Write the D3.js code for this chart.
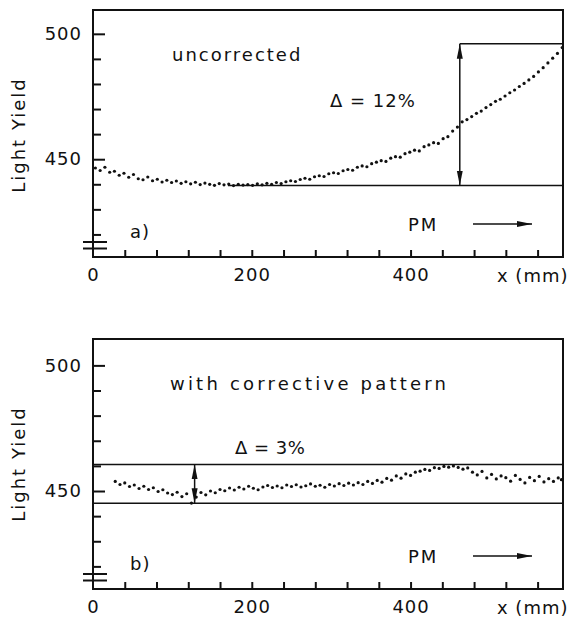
<!DOCTYPE html>
<html lang="en">
<head>
<meta charset="utf-8">
<title>Light yield vs position</title>
<script src="https://cdn.jsdelivr.net/npm/d3@7"></script>
<style>
  body { margin: 0; background: #fff; }
  svg text { font-family: "DejaVu Sans", sans-serif; fill: #111; }
  .axis text { font-size: 18px; letter-spacing: 1px; }
  .axis line { stroke: #111; stroke-width: 2px; }
  .axis path { display: none; }
</style>
</head>
<body>
<script>
// uncorrected scan, x in mm, light yield
var xA = [3,9,15,21,27,33,39,45,51,57,63,69,75,81,87,93,99,105,111,117,123,129,135,141,147,153,159,165,171,177,183,189,195,201,207,213,219,225,231,237,243,249,255,261,267,273,279,285,291,297,303,309,315,321,327,333,339,345,351,357,363,369,375,381,387,393,399,405,411,417,423,429,435,441,447,453,459,465,471,477,483,489,495,501,507,513,519,525,531,537,543,549,555,561,567,573,579,585,591];
var yA = [446.5,445.5,446.8,444.8,445.2,443.6,444.4,442.8,443.9,442.2,441.8,442.9,441.4,442.0,440.9,441.6,440.7,441.3,440.4,441.0,440.2,440.8,439.9,440.5,440.0,439.6,440.3,439.8,440.1,439.5,440.0,439.7,439.9,439.6,440.2,439.8,440.4,440.0,440.7,440.3,441.0,441.4,441.1,441.9,442.4,442.0,443.0,443.4,443.1,444.2,444.6,444.3,445.4,445.9,445.6,446.8,447.3,447.0,448.2,448.8,449.4,449.1,450.4,451.0,450.8,452.2,452.8,453.6,453.3,455.0,455.7,456.6,456.3,458.2,459.0,461.2,462.8,464.9,465.8,467.0,468.3,469.2,470.6,471.8,473.1,473.9,475.2,476.5,477.6,479.0,480.2,481.6,483.0,484.8,486.5,488.4,490.3,492.2,494.5];

// with corrective pattern
var xB = [28,34,40,46,52,58,64,70,76,82,88,94,100,106,112,118,124,130,136,142,148,154,160,166,172,178,184,190,196,202,208,214,220,226,232,238,244,250,256,262,268,274,280,286,292,298,304,310,316,322,328,334,340,346,352,358,364,370,376,382,388,394,400,406,412,418,424,430,436,442,448,454,460,466,472,478,484,490,496,502,508,514,520,526,532,538,544,550,556,562,568,574,580,586,590];
var yB = [453.8,452.6,453.2,451.8,452.4,451.0,451.9,450.6,451.3,449.8,450.5,449.2,448.6,449.5,447.8,448.9,445.2,447.6,449.4,448.5,450.0,449.3,450.6,450.1,451.2,450.4,451.5,450.8,451.9,451.1,450.5,451.6,452.2,451.4,452.0,451.3,452.4,451.8,452.5,451.6,452.1,452.8,451.9,452.3,451.5,452.6,452.0,452.9,452.2,453.1,452.4,453.3,452.6,453.8,453.0,454.2,453.5,455.0,454.3,456.0,455.1,456.8,456.2,457.5,457.9,458.6,458.2,459.3,459.0,459.8,459.5,460.0,459.4,458.7,459.2,457.5,456.4,457.8,455.2,456.6,454.8,456.0,455.3,453.9,456.2,454.6,453.2,455.4,454.1,455.8,453.6,454.9,453.8,455.2,454.5];

var xTickLabels = [0, 200, 400];
var xMinor = [40,80,120,160,200,240,280,320,360,400,440,480,520,560];
var yTickLabels = [450, 500];
var yMinor = [420,430,440,460,470,480,490];

// reference levels and arrow positions
var levelsA = {low: 439.5, high: 496, arrowX: 462, lowFrom: 170};
var levelsB = {low: 445.1, high: 460.6, arrowX: 128};

var W = 568, H = 621;
var svg = d3.select("body").append("svg").attr("width", W).attr("height", H);

var defs = svg.append("defs");
defs.append("marker").attr("id", "head")
  .attr("viewBox", "0 0 15 7").attr("refX", 15).attr("refY", 3.5)
  .attr("markerWidth", 15).attr("markerHeight", 7)
  .attr("markerUnits", "userSpaceOnUse").attr("orient", "auto-start-reverse")
  .append("path").attr("d", "M0,0.5 L15,3.5 L0,6.5 Z").attr("fill", "#111");

var x = d3.scaleLinear().domain([0, 592]).range([93, 563]);

function panel(cfg) {
  var y = d3.scaleLinear().domain(cfg.domain).range([cfg.y1, cfg.y0]);
  var g = svg.append("g");

  // frame
  g.append("rect").attr("x", x.range()[0]).attr("y", cfg.y0)
    .attr("width", x.range()[1] - x.range()[0]).attr("height", cfg.y1 - cfg.y0)
    .attr("fill", "none").attr("stroke", "#111").attr("stroke-width", 2);

  // y axis (inward ticks)
  g.append("g").attr("class", "axis").attr("transform", "translate(93,0)")
    .call(d3.axisLeft(y).tickValues(yMinor).tickSize(-8).tickFormat(""));
  g.append("g").attr("class", "axis").attr("transform", "translate(93,0)")
    .call(d3.axisLeft(y).tickValues(yTickLabels).tickSize(-12).tickPadding(11).tickFormat(d3.format("d")));

  // x axis
  g.append("g").attr("class", "axis").attr("transform", "translate(0," + cfg.y1 + ")")
    .call(d3.axisBottom(x).tickValues(xMinor).tickSize(-7).tickFormat(""));
  g.append("g").attr("class", "axis").attr("transform", "translate(0," + cfg.y1 + ")")
    .call(d3.axisBottom(x).tickValues(xTickLabels).tickSize(0).tickPadding(11).tickFormat(d3.format("d")));

  g.append("text").attr("x", 497).attr("y", cfg.y1 + 25)
    .attr("font-size", 18).attr("letter-spacing", 1).text("x (mm)");

  // axis break
  [cfg.y1 - 15, cfg.y1 - 8.5].forEach(function(v) {
    g.append("line").attr("x1", 83).attr("x2", 107).attr("y1", v).attr("y2", v)
      .attr("stroke", "#111").attr("stroke-width", 2);
  });

  // y label
  g.append("text").attr("transform", "translate(25," + (cfg.y0 + 125) + ") rotate(-90)")
    .attr("text-anchor", "middle").attr("font-size", 18).attr("letter-spacing", 2)
    .text("Light Yield");

  // data points
  g.selectAll("circle.pt").data(cfg.xs).enter().append("circle")
    .attr("class", "pt")
    .attr("cx", function(d) { return x(d); })
    .attr("cy", function(d, i) { return y(cfg.ys[i]); })
    .attr("r", 1.6).attr("fill", "#111");

  // PM arrow
  var pmY = cfg.y1 - 33;
  g.append("text").attr("x", 408).attr("y", pmY + 7).attr("font-size", 18)
    .attr("letter-spacing", 2).text("PM");
  g.append("line").attr("x1", 473).attr("x2", 532).attr("y1", pmY).attr("y2", pmY)
    .attr("stroke", "#111").attr("stroke-width", 1.5).attr("marker-end", "url(#head)");

  g.append("text").attr("x", 130).attr("y", cfg.y1 - 19).attr("font-size", 18)
    .attr("letter-spacing", 1).text(cfg.tag);

  return {g: g, y: y};
}

// panel a
var pa = panel({y0: 10, y1: 257, domain: [411, 509.5], xs: xA, ys: yA, tag: "a)"});
pa.g.append("line").attr("x1", x(levelsA.lowFrom)).attr("x2", 563)
  .attr("y1", pa.y(levelsA.low)).attr("y2", pa.y(levelsA.low))
  .attr("stroke", "#111").attr("stroke-width", 1.5);
pa.g.append("line").attr("x1", x(levelsA.arrowX)).attr("x2", 563)
  .attr("y1", pa.y(levelsA.high)).attr("y2", pa.y(levelsA.high))
  .attr("stroke", "#111").attr("stroke-width", 1.5);
pa.g.append("line").attr("x1", x(levelsA.arrowX)).attr("x2", x(levelsA.arrowX))
  .attr("y1", pa.y(levelsA.low)).attr("y2", pa.y(levelsA.high))
  .attr("stroke", "#111").attr("stroke-width", 1.5)
  .attr("marker-start", "url(#head)").attr("marker-end", "url(#head)");
pa.g.append("text").attr("x", 172).attr("y", 61).attr("font-size", 18)
  .attr("letter-spacing", 2).text("uncorrected");
pa.g.append("text").attr("x", 330).attr("y", 107).attr("font-size", 18)
  .attr("letter-spacing", 1).text("\u0394 = 12%");

// panel b
var pb = panel({y0: 339, y1: 589, domain: [411, 510.5], xs: xB, ys: yB, tag: "b)"});
[levelsB.low, levelsB.high].forEach(function(v) {
  pb.g.append("line").attr("x1", 93).attr("x2", 563)
    .attr("y1", pb.y(v)).attr("y2", pb.y(v))
    .attr("stroke", "#111").attr("stroke-width", 1.5);
});
pb.g.append("line").attr("x1", x(levelsB.arrowX)).attr("x2", x(levelsB.arrowX))
  .attr("y1", pb.y(levelsB.low)).attr("y2", pb.y(levelsB.high))
  .attr("stroke", "#111").attr("stroke-width", 1.5)
  .attr("marker-start", "url(#head)").attr("marker-end", "url(#head)");
pb.g.append("text").attr("x", 170).attr("y", 390).attr("font-size", 18)
  .attr("letter-spacing", 3.2).text("with corrective pattern");
pb.g.append("text").attr("x", 235).attr("y", 454).attr("font-size", 18)
  .attr("letter-spacing", 0.5).text("\u0394 = 3%");
</script>
</body>
</html>
